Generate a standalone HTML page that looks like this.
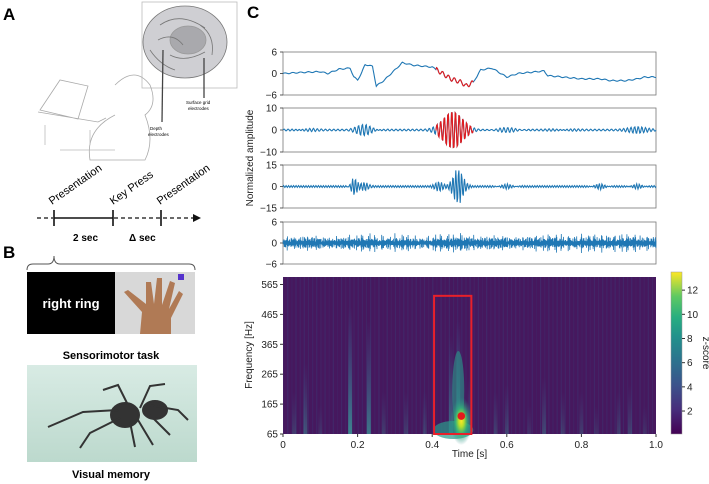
<!DOCTYPE html>
<html><head><meta charset="utf-8"><style>
body{margin:0;background:#fff;}
svg{display:block;font-family:"Liberation Sans","DejaVu Sans",sans-serif;}
</style></head><body>
<svg id="fig" width="709" height="484" viewBox="0 0 709 484">
<defs>
<linearGradient id="cbar" x1="0" y1="1" x2="0" y2="0">
<stop offset="0" stop-color="#440154"/><stop offset="0.15" stop-color="#472d7b"/><stop offset="0.3" stop-color="#3b528b"/><stop offset="0.45" stop-color="#2c728e"/><stop offset="0.6" stop-color="#21918c"/><stop offset="0.72" stop-color="#28ae80"/><stop offset="0.85" stop-color="#5ec962"/><stop offset="1" stop-color="#fde725"/></linearGradient>
<radialGradient id="blob"><stop offset="0" stop-color="#fde725"/><stop offset="0.25" stop-color="#b5de2b"/><stop offset="0.55" stop-color="#35b779" stop-opacity="0.8"/><stop offset="1" stop-color="#2a8a8a" stop-opacity="0"/></radialGradient>
<linearGradient id="streak" x1="0" y1="1" x2="0" y2="0"><stop offset="0" stop-color="#3b9c9a" stop-opacity="0.9"/><stop offset="1" stop-color="#3b6a9a" stop-opacity="0"/></linearGradient>
<linearGradient id="spiderbg" x1="0" y1="0" x2="0" y2="1"><stop offset="0" stop-color="#d8ebe4"/><stop offset="1" stop-color="#bcd9cd"/></linearGradient>
</defs>

<text x="3" y="20" font-size="17" font-weight="bold">A</text>
<g fill="none" stroke="#999" stroke-width="0.8">
<rect x="142" y="2" width="95" height="86" stroke="#bbb"/>
<ellipse cx="185" cy="42" rx="42" ry="36" fill="#cfcfd3" stroke="#777"/>
<ellipse cx="188" cy="40" rx="18" ry="14" fill="#a9a9ad"/>
<path d="M160 25 q20 -14 45 3 M158 40 q15 -8 25 5 M170 55 q15 8 35 -3 M200 25 q15 10 12 30 M150 50 q10 15 25 20" stroke="#777"/>
<line x1="163" y1="50" x2="162" y2="122" stroke="#444" stroke-width="1.3"/>
<line x1="204" y1="58" x2="204" y2="98" stroke="#444" stroke-width="1.3"/>
<path d="M40 110 l20 -30 l28 6 l-10 33 z M38 112 l60 10 l8 -4" stroke="#aaa"/>
<path d="M115 85 q20 -20 35 0 q8 20 -5 30 q10 25 0 45 l-55 0 q-5 -30 25 -45" stroke="#aaa"/>
<path d="M45 125 l0 20 M90 130 l0 15 M60 150 l55 0" stroke="#bbb"/>
</g>
<text x="186" y="104" font-size="4.5">Surface grid</text>
<text x="188" y="110" font-size="4.5">electrodes</text>
<text x="150" y="130" font-size="4.5">Depth</text>
<text x="148" y="136" font-size="4.5">electrodes</text>

<g stroke="#111" stroke-width="1.3">
<line x1="37" y1="218" x2="53" y2="218" stroke-dasharray="4,3"/>
<line x1="54" y1="218" x2="113" y2="218" stroke-width="1.6"/>
<line x1="114" y1="218" x2="195" y2="218" stroke-dasharray="4,3"/>
<line x1="54" y1="210" x2="54" y2="226" stroke-width="1.6"/>
<line x1="113" y1="210" x2="113" y2="226" stroke-width="1.6"/>
<line x1="161" y1="210" x2="161" y2="226" stroke-width="1.6"/>
<path d="M193 214 l8 4 l-8 4 z" fill="#111" stroke="none"/>
</g>
<text transform="translate(52,205) rotate(-35)" font-size="11">Presentation</text>
<text transform="translate(113,205) rotate(-35)" font-size="11">Key Press</text>
<text transform="translate(160,205) rotate(-35)" font-size="11">Presentation</text>
<text x="73" y="241" font-size="10" font-weight="bold">2 sec</text>
<text x="129" y="241" font-size="10" font-weight="bold">Δ sec</text>

<text x="3" y="258" font-size="17" font-weight="bold">B</text>
<path d="M27 270 q0 -6 6 -6 l15 0 q6 0 6 -8 q0 8 6 8 l129 0 q6 0 6 6" fill="none" stroke="#555" stroke-width="1"/>
<rect x="27" y="272" width="88" height="62" fill="#000"/>
<text x="71" y="308" font-size="13" fill="#fff" font-weight="bold" text-anchor="middle">right ring</text>
<rect x="115" y="272" width="80" height="62" fill="#d8d8d8"/>
<path d="M140 334 l2 -22 l-18 -20 l4 -2 l18 14 l0 -22 l5 0 l3 22 l3 -26 l5 0 l0 27 l8 -24 l5 2 l-6 26 l10 -18 l4 3 l-12 24 l0 16 z" fill="#b07a55"/>
<rect x="178" y="274" width="6" height="6" fill="#5533cc"/>
<text x="111" y="359" font-size="11" font-weight="bold" text-anchor="middle">Sensorimotor task</text>
<rect x="27" y="365" width="170" height="97" fill="url(#spiderbg)"/>
<g stroke="#333" stroke-width="2" fill="none">
<ellipse cx="125" cy="415" rx="14" ry="12" fill="#333"/>
<ellipse cx="155" cy="410" rx="12" ry="9" fill="#333"/>
<path d="M118 410 l-35 2 l-35 15 M120 418 l-30 15 l-10 15 M128 405 l-10 -20 l-15 5 M130 422 l5 25 M140 408 l10 -22 l15 -2 M148 405 l30 5 l10 10 M150 415 l20 20 M138 420 l15 25"/>
</g>
<text x="111" y="478" font-size="11" font-weight="bold" text-anchor="middle">Visual memory</text>

<text x="247" y="18" font-size="17" font-weight="bold">C</text>
<text transform="translate(253,158) rotate(-90)" font-size="10" text-anchor="middle" fill="#222">Normalized amplitude</text>
<g id="traces"></g>
<g id="heat"></g>
</svg>
<script>
const rawTimes = [0,0.05,0.1,0.12,0.15,0.18,0.19,0.2,0.21,0.22,0.24,0.25,0.27,0.3,0.32,0.35,0.4,0.42,0.45,0.48,0.49,0.51,0.53,0.56,0.6,0.63,0.65,0.68,0.7,0.71,0.75,0.8,0.85,0.88,0.92,0.95,0.97,1.0];
const rawValues = [0,0.3,0.5,0,1.2,1.5,-1,-1.8,0,2.5,2,-3.5,-2,1,3,2.3,1.8,0.5,-1.5,-2.5,-3.5,-2.5,1,1.5,-1,0,0.2,0.5,0.7,-0.6,-1,-1.5,-1.5,-2,-2,-1.5,-1,-1];
const rawHighlight = [0.41,0.51];
const hfoBursts = [[0.06,0.04,0.8],[0.22,0.04,2.5],[0.455,0.05,9.5],[0.6,0.05,0.8],[0.75,0.05,0.6],[0.95,0.04,2]];
const hfoHighlight = [0.41,0.51];
const fastBursts = [[0.19,0.015,6],[0.22,0.02,3.5],[0.42,0.02,4],[0.47,0.025,13],[0.6,0.04,1.2],[0.85,0.03,1.5],[0.95,0.03,1.2]];
const noiseLevel = [2.6,3,2.4,2.8,3.2,2.6,2.9,2.2,3.1,3.4,2.8,3,2.5,2.9,3.2,2.6,3,2.8,3.2,2.7];
const yTicks = [[6,0,-6],[10,0,-10],[15,0,-15],[6,0,-6]];
const streakTimes = [0.03,0.06,0.1,0.18,0.23,0.27,0.33,0.38,0.45,0.47,0.5,0.57,0.6,0.66,0.7,0.75,0.8,0.84,0.9,0.93,0.97];
const streakStrength = [0.3,0.5,0.2,0.9,0.8,0.3,0.3,0.3,0.7,0.8,0.4,0.3,0.35,0.2,0.4,0.3,0.3,0.2,0.3,0.35,0.2];
const peakTime = [0.478];
const peakFreq = [125];
const boxRange = [0.405,0.505,527];
const timeTicks = [0,0.2,0.4,0.6,0.8,1.0];
const freqTicks = [65,165,265,365,465,565];
const zTicks = [2,4,6,8,10,12];

const NS='http://www.w3.org/2000/svg';
const X0=283,X1=656;
const xs=t=>X0+(X1-X0)*t;
function mk(tag,attrs,parent){const e=document.createElementNS(NS,tag);for(const k in attrs)e.setAttribute(k,attrs[k]);parent.appendChild(e);return e;}
const tr=document.getElementById('traces');
const panels=[[52,95],[108,152],[165,208],[222,264]];
panels.forEach((p,i)=>{
  const max=yTicks[i][0];
  const ys=v=>p[0]+(p[1]-p[0])*(max-v)/(2*max);
  const g=mk('g',{},tr);
  
  
  const fr=mk('rect',{x:X0,y:p[0],width:X1-X0,height:p[1]-p[0],fill:'none',stroke:'#777','stroke-width':0.8},g);
  
  
  yTicks[i].forEach(v=>{
    mk('line',{x1:X0-3,x2:X0,y1:ys(v),y2:ys(v),stroke:'#333','stroke-width':0.8},g);
    const t=mk('text',{x:X0-6,y:ys(v)+3.5,'font-size':10,'text-anchor':'end',fill:'#222'},g);
    t.textContent=v<0?'\u2212'+(-v):v;
    
    
  });
  const N=i===3?1500:600;
  let pts=[],red=[];
  for(let k=0;k<=N;k++){
    const t=k/N;let v=0;
    if(i===0){
      let j=0;while(j<rawTimes.length-2&&rawTimes[j+1]<t)j++;
      const f=(t-rawTimes[j])/(rawTimes[j+1]-rawTimes[j]);
      v=rawValues[j]+(rawValues[j+1]-rawValues[j])*Math.max(0,Math.min(1,f));
      if(t>rawHighlight[0]&&t<rawHighlight[1])v+=0.6*Math.sin(t*400);
      else v+=0.15*Math.sin(t*300);
    } else if(i===1){
      v=0.4*Math.sin(t*2*Math.PI*90);
      hfoBursts.forEach(b=>{const d=(t-b[0])/b[1];v+=b[2]*Math.exp(-d*d*2)*Math.sin(t*2*Math.PI*100);});
      v=Math.max(-max,Math.min(max,v));
    } else if(i===2){
      v=0.6*Math.sin(t*2*Math.PI*150);
      fastBursts.forEach(b=>{const d=(t-b[0])/b[1];v+=b[2]*Math.exp(-d*d*2)*Math.sin(t*2*Math.PI*130);});
    } else {
      const a=noiseLevel[Math.min(noiseLevel.length-1,Math.floor(t*noiseLevel.length))];
      v=a*(0.45*Math.sin(t*2*Math.PI*511)+0.3*Math.sin(t*2*Math.PI*677+1)+0.25*Math.sin(t*2*Math.PI*733+2))*(0.55+0.45*Math.abs(Math.sin(t*2*Math.PI*29)));
    }
    const pt=xs(t).toFixed(1)+','+ys(v).toFixed(1);
    const hl=i===0?rawHighlight:hfoHighlight;
    if(i<2&&t>=hl[0]&&t<=hl[1])red.push(pt);
    pts.push(pt);
  }
  const pl=mk('polyline',{points:pts.join(' '),fill:'none',stroke:'#1f77b4','stroke-width':i===3?0.8:1.1},g);
  
  
  if(red.length){
    const rl=mk('polyline',{points:red.join(' '),fill:'none',stroke:'#e31a1c','stroke-width':1.1},g);
    
    
  }
});

const hm=document.getElementById('heat');
const HY0=277,HY1=434,F0=65,F1=590;
const fy=f=>HY1-(HY1-HY0)*(f-F0)/(F1-F0);
const bg=mk('rect',{x:X0,y:HY0,width:X1-X0,height:HY1-HY0,fill:'#46185e'},hm);


for(let k=0;k<90;k++){
  const t=k/90;
  mk('rect',{x:xs(t),y:HY0,width:1.2,height:HY1-HY0,fill:'#3b3f7a',opacity:(0.15+0.25*Math.abs(Math.sin(k*1.7))).toFixed(2)},hm);
}
streakTimes.forEach((t,i)=>{
  const s=mk('rect',{x:xs(t)-2,y:HY0+(HY1-HY0)*(1-streakStrength[i]*0.9),width:4,height:(HY1-HY0)*streakStrength[i]*0.9,fill:'url(#streak)',opacity:streakStrength[i]},hm);
  
  
});
mk('ellipse',{cx:xs(peakTime[0])-8,cy:HY1-4,rx:20,ry:9,fill:'#2a9a8a',opacity:0.7},hm);
mk('ellipse',{cx:xs(peakTime[0])-3,cy:fy(peakFreq[0])-25,rx:6,ry:40,fill:'#2a9a8a',opacity:0.6},hm);
const bl=mk('ellipse',{cx:xs(peakTime[0]),cy:fy(peakFreq[0])+5,rx:11,ry:24,fill:'url(#blob)'},hm);


const rb=mk('rect',{x:xs(boxRange[0]),y:fy(boxRange[2]),width:xs(boxRange[1])-xs(boxRange[0]),height:HY1-fy(boxRange[2]),fill:'none',stroke:'#e8202a','stroke-width':2},hm);


const dot=mk('circle',{cx:xs(peakTime[0]),cy:fy(peakFreq[0]),r:3.8,fill:'#e31a1c'},hm);


timeTicks.forEach(t=>{
  mk('line',{x1:xs(t),x2:xs(t),y1:HY1,y2:HY1+3,stroke:'#333'},hm);
  const e=mk('text',{x:xs(t),y:HY1+14,'font-size':10,'text-anchor':'middle',fill:'#222'},hm);
  e.textContent=t===0?'0':t.toFixed(1);
  
  
});
freqTicks.forEach(f=>{
  mk('line',{x1:X0-3,x2:X0,y1:fy(f),y2:fy(f),stroke:'#333'},hm);
  const e=mk('text',{x:X0-5,y:fy(f)+3.5,'font-size':10,'text-anchor':'end',fill:'#222'},hm);
  e.textContent=f;
  
  
});
const xt=mk('text',{x:(X0+X1)/2,y:457,'font-size':10,'text-anchor':'middle',fill:'#222'},hm);
xt.textContent='Time [s]';


const yt=mk('text',{transform:'translate(252,355) rotate(-90)','font-size':10,'text-anchor':'middle',fill:'#222'},hm);
yt.textContent='Frequency [Hz]';


const CB0=272,CB1=434,ZMIN=0.1,ZMAX=13.5;
const zy=z=>CB1-(CB1-CB0)*(z-ZMIN)/(ZMAX-ZMIN);
const cb=mk('rect',{x:671,y:CB0,width:11,height:CB1-CB0,fill:'url(#cbar)',stroke:'#999','stroke-width':0.5},hm);


zTicks.forEach(z=>{
  mk('line',{x1:682,x2:685,y1:zy(z),y2:zy(z),stroke:'#333'},hm);
  const e=mk('text',{x:687,y:zy(z)+3.5,'font-size':10,fill:'#222'},hm);
  e.textContent=z;
  
  
});
const zt=mk('text',{transform:'translate(703,353) rotate(90)','font-size':10,'text-anchor':'middle',fill:'#222'},hm);
zt.textContent='z-score';


</script>
</body></html>
